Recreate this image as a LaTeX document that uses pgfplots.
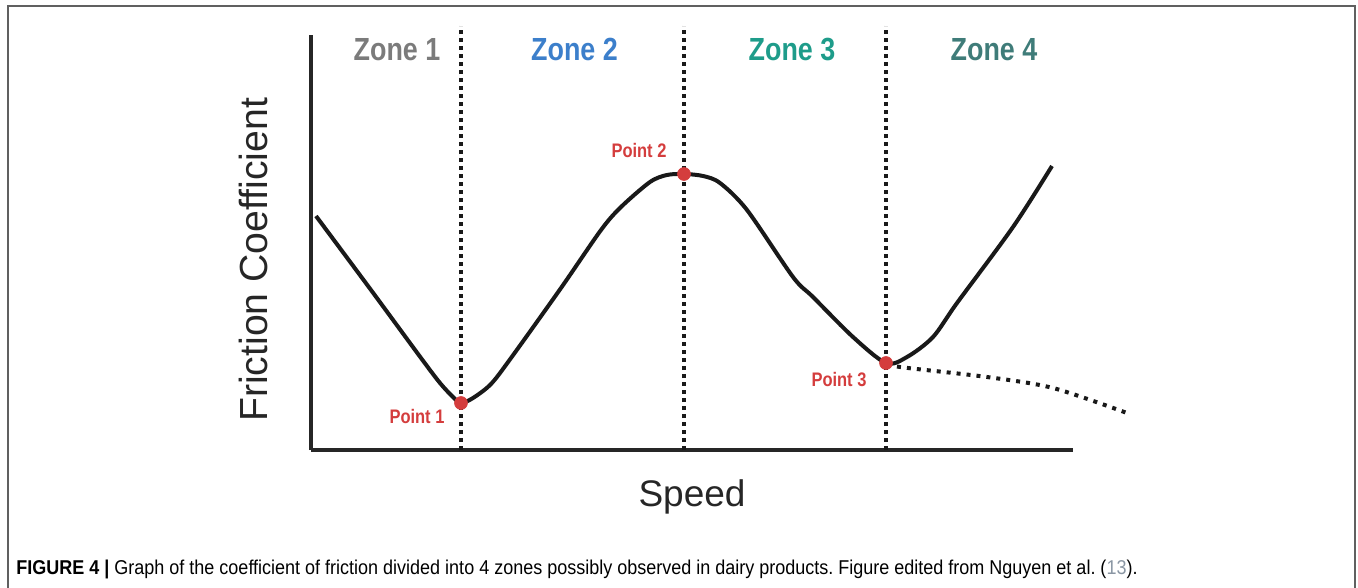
\documentclass[border=0pt]{standalone}
\usepackage{fontspec}
\setmainfont{Liberation Sans}
\newfontfamily\zonefont[FakeStretch=0.84]{Liberation Sans}
\newfontfamily\capfont[FakeStretch=0.9]{Liberation Sans}
\usepackage{pgfplots}
\pgfplotsset{compat=1.18}
\frenchspacing
\definecolor{zone1}{HTML}{7B7B7B}
\definecolor{zone2}{HTML}{3C7FCB}
\definecolor{zone3}{HTML}{1E9C8A}
\definecolor{zone4}{HTML}{3F7C79}
\definecolor{ptred}{HTML}{D43D3D}
\definecolor{framegray}{HTML}{606060}
\definecolor{refgray}{HTML}{8A96A3}
\begin{document}
\begin{tikzpicture}
\begin{axis}[
  x=0.5pt, y=0.5pt,
  xmin=0, xmax=762, ymin=0, ymax=415,
  axis lines=left,
  axis line style={line width=2.2pt, -, line cap=butt, black!85},
  xtick=\empty, ytick=\empty,
  clip=false,
  xlabel={Speed}, ylabel={Friction Coefficient},
  x label style={at={(axis description cs:0.5,-0.135)}, anchor=base, font=\fontsize{18.5}{20}\selectfont, text=black!85},
  y label style={at={(axis description cs:-0.0577,0.458)}, anchor=base, font=\fontsize{19.6}{21}\selectfont, text=black!85},
  dotline/.style={line width=1.8pt, line cap=butt, dash pattern=on 1.8pt off 2.2pt, black!90},
]
% zone separators
\addplot[dotline] coordinates {(150,0) (150,424)};
\addplot[dotline] coordinates {(373,0) (373,424)};
\addplot[dotline] coordinates {(575,0) (575,424)};
% friction curve
\addplot[line width=2pt, black!90, smooth, tension=0.5] coordinates {
(5,234) (60,160) (110,92) (129,67) (142,53) (150,47) (162,52) (180,66)
(200,92) (250,162) (290,220) (310,243) (339,268) (356,275) (373,276)
(392,274) (409,267) (436,240) (482,173) (502,153) (542,113) (575,87)
(596,93) (622,113) (646,147) (702,223) (741,284)};
% alternative branch
\addplot[line width=2pt, line cap=butt, dash pattern=on 2pt off 3pt, black!90, smooth, tension=0.5] coordinates {
(577,87) (589,83) (676,73) (742,62) (816,37)};
% points
\addplot[only marks, mark=*, mark size=3.2pt, ptred, mark options={draw=ptred, fill=ptred}] coordinates {(150,47) (373,276) (575,87)};
% zone labels
\node[anchor=base, text=zone1, font=\zonefont\bfseries\fontsize{16}{18}\selectfont] at (axis cs:86,389.5) {Zone 1};
\node[anchor=base, text=zone2, font=\zonefont\bfseries\fontsize{16}{18}\selectfont] at (axis cs:263.5,389.5) {Zone 2};
\node[anchor=base, text=zone3, font=\zonefont\bfseries\fontsize{16}{18}\selectfont] at (axis cs:481,389.5) {Zone 3};
\node[anchor=base, text=zone4, font=\zonefont\bfseries\fontsize{16}{18}\selectfont] at (axis cs:683,389.5) {Zone 4};
% point labels
\node[anchor=base, text=ptred, font=\zonefont\bfseries\fontsize{9.8}{11}\selectfont] at (axis cs:106,27) {Point 1};
\node[anchor=base, text=ptred, font=\zonefont\bfseries\fontsize{9.8}{11}\selectfont] at (axis cs:328,292) {Point 2};
\node[anchor=base, text=ptred, font=\zonefont\bfseries\fontsize{9.8}{11}\selectfont] at (axis cs:528,63) {Point 3};
% caption
\node[anchor=base west, inner sep=0pt, font=\capfont\fontsize{10}{12}\selectfont] at (axis cs:-295,-124)
 {\textbf{FIGURE 4 |} Graph of the coefficient of friction divided into 4 zones possibly observed in dairy products. Figure edited from Nguyen et al. ({\color{refgray}13}).};
% frame
\draw[framegray, line width=0.9pt] (axis cs:-303,-140) -- (axis cs:-303,444) -- (axis cs:1044,444) -- (axis cs:1044,-140);
\coordinate (BL) at (axis cs:-311,-138);
\coordinate (TR) at (axis cs:1047,450);
\end{axis}
\pgfresetboundingbox
\path[use as bounding box] (BL) rectangle (TR);
\end{tikzpicture}
\end{document}
